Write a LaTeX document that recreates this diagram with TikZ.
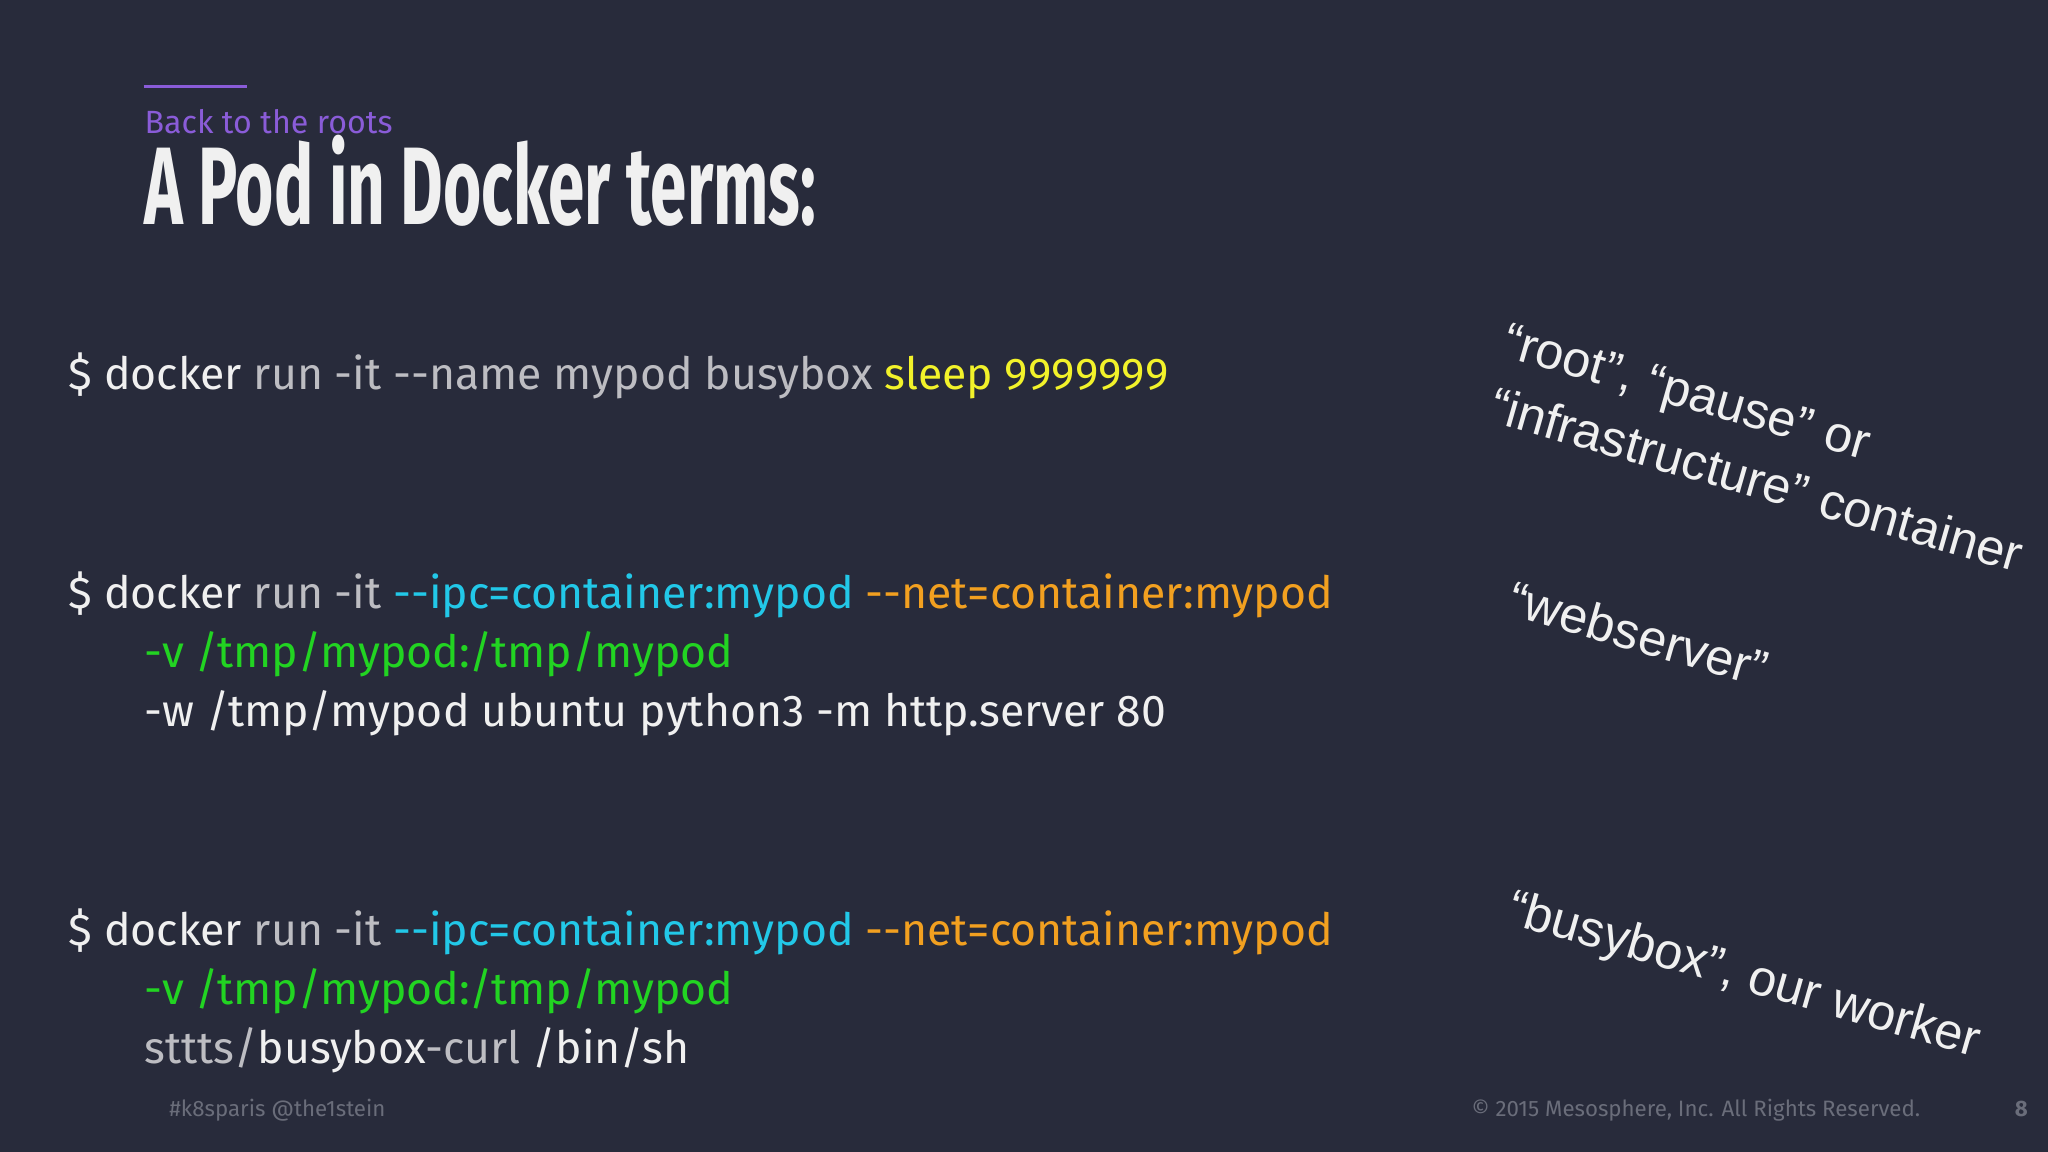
\documentclass[tikz,border=0pt]{standalone}
\usepackage{fontspec}
\setmainfont{Fira Sans}
\newfontfamily\arialf{Liberation Sans}
\definecolor{bg}{HTML}{282B3B}
\definecolor{wt}{HTML}{F0F0F0}
\definecolor{gy}{HTML}{BDBDC2}
\definecolor{yl}{HTML}{F2F22A}
\definecolor{cy}{HTML}{22C8E8}
\definecolor{og}{HTML}{F2A020}
\definecolor{gn}{HTML}{22D422}
\definecolor{pp}{HTML}{8A5CD8}
\definecolor{ft}{HTML}{6A6D7A}
\tikzset{cmd/.style={anchor=base west,inner sep=0,font=\fontsize{9.7pt}{12pt}\selectfont,text=wt},
 note/.style={anchor=base west,inner sep=0,rotate=-16,text=wt,font=\arialf\fontsize{11pt}{13pt}\selectfont},
 foot/.style={anchor=base west,inner sep=0,text=ft,font=\fontsize{4.85pt}{6pt}\selectfont}}
\begin{document}
\begin{tikzpicture}[x=0.01cm,y=-0.01cm]
\fill[bg] (0,0) rectangle (1568,882);
\useasboundingbox (0,0) rectangle (1568,882);
\draw[pp,line width=0.6pt] (110,66) -- (189,66);
\node[anchor=base west,inner sep=0,text=pp,font=\fontsize{7pt}{8pt}\selectfont] (sub) at (110,102) {Back to the roots};
\node[anchor=base west,inner sep=0,text=wt,font=\fontsize{24pt}{26pt}\selectfont\bfseries,xscale=0.595] (title) at (110,172) {A Pod in Docker terms:};
\node[cmd] (l1) at (52,298) {\$ docker \textcolor{gy}{run -it {-}{-}name mypod busybox} \textcolor{yl}{sleep 9999999}};
\node[cmd] (l2) at (52,466) {\$ docker \textcolor{gy}{run -it} \textcolor{cy}{{-}{-}ipc=container:mypod} \textcolor{og}{{-}{-}net=container:mypod}};
\node[cmd,text=gn] (l3) at (110,511) {-v /tmp/mypod:/tmp/mypod};
\node[cmd] (l4) at (110,556) {-w /tmp/mypod ubuntu python3 -m http.server 80};
\node[cmd] (l5) at (52,724) {\$ docker \textcolor{gy}{run -it} \textcolor{cy}{{-}{-}ipc=container:mypod} \textcolor{og}{{-}{-}net=container:mypod}};
\node[cmd,text=gn] (l6) at (110,769) {-v /tmp/mypod:/tmp/mypod};
\node[cmd] (l7) at (110,814) {\textcolor{gy}{sttts/}busybox\textcolor{gy}{-curl} /bin/sh};
\node[note] (n1) at (1148,272) {“root”, “pause” or};
\node[note] (n2) at (1138,322) {“infrastructure” container};
\node[note] (n3) at (1152,470) {“webserver”};
\node[note] (n4) at (1152,706) {“busybox”, our worker};
\node[foot] (f1) at (129,855) {\#k8sparis @the1stein};
\node[foot] (f2) at (1126,855) {© 2015 Mesosphere, Inc. All Rights Reserved.};
\node[foot,font=\fontsize{4.85pt}{6pt}\selectfont\bfseries] (f3) at (1542,855) {8};
\end{tikzpicture}
\end{document}
